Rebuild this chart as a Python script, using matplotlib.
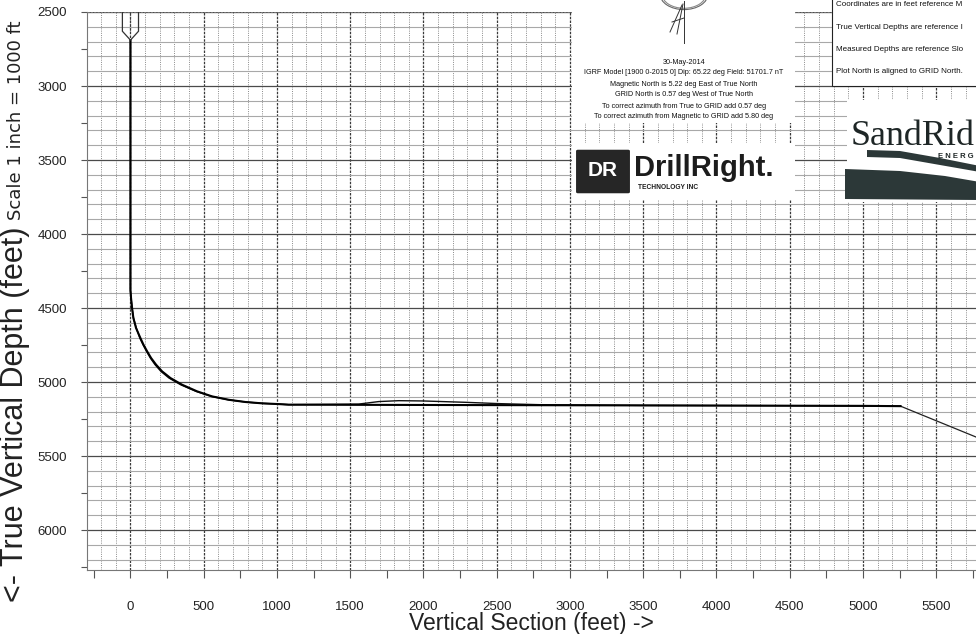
import numpy as np
import matplotlib
matplotlib.use("Agg")
import matplotlib.pyplot as plt
from matplotlib.patches import Rectangle, Polygon, FancyBboxPatch, Circle
from matplotlib.lines import Line2D

plt.rcParams['font.family'] = ['Liberation Sans', 'DejaVu Sans']

# ---------------- data ----------------
plan_vs = [0, 0, 0, 4, 11, 20, 38, 68, 89, 114, 141, 175, 216, 273, 352, 455, 557,
           671, 785, 898, 1012, 1080, 1500, 2000, 2500, 3000, 3500, 4000, 4500, 5000, 5256]
plan_tvd = [2690, 4297, 4380, 4432, 4500, 4568, 4635, 4703, 4748, 4793, 4838, 4883, 4928,
            4973, 5018, 5063, 5097, 5120, 5135, 5144, 5149, 5153, 5154, 5155, 5156, 5157,
            5158, 5159, 5160, 5161, 5163]

actual_vs = [0, 0, 4, 11, 21, 40, 64, 86, 110, 136, 168, 208, 263, 342, 447, 552,
             668, 785, 898, 1012, 1080, 1558, 1695, 1832, 2000, 2285, 2517, 2790,
             3500, 4500, 5256]
actual_tvd = [2690, 4380, 4432, 4500, 4568, 4635, 4703, 4748, 4793, 4838, 4883, 4928,
              4973, 5018, 5063, 5097, 5120, 5135, 5144, 5149, 5153, 5149, 5132, 5126,
              5128, 5137, 5146, 5153, 5158, 5160, 5163]

target_vs = [5256, 6000]
target_tvd = [5163, 5464]

casing_top = 2500
casing_shoulder = 2630
casing_shoe = 2690
casing_halfwidth = 55

xlim = (-300, 6000)
ylim = (6270, 2500)
x_major = 500
x_minor = 250
grid_step = 100

info_lines = [
    "30-May-2014",
    "IGRF Model [1900 0-2015 0] Dip: 65.22 deg Field: 51701.7 nT",
    "Magnetic North is 5.22 deg East of True North",
    "GRID North is 0.57 deg West of True North",
    "To correct azimuth from True to GRID add 0.57 deg",
    "To correct azimuth from Magnetic to GRID add 5.80 deg",
]
ref_lines = [
    "Coordinates are in feet reference M",
    "True Vertical Depths are reference I",
    "Measured Depths are reference Slo",
    "Plot North is aligned to GRID North.",
]

# ---------------- figure ----------------
W, H = 976, 634
fig = plt.figure(figsize=(W / 100, H / 100), dpi=100)

def fx(px):
    return px / W

def fy(py):
    return 1 - py / H

ax_left, ax_right, ax_top, ax_bottom = 86.5, 1009.5, 12, 570
ax = fig.add_axes([fx(ax_left), fy(ax_bottom), (ax_right - ax_left) / W, (ax_bottom - ax_top) / H])
ax.set_xlim(*xlim)
ax.set_ylim(*ylim)

# grid
for v in np.arange(xlim[0], xlim[1] + 1, grid_step):
    if v % 500 == 0:
        ax.axvline(v, color='#3a3a3a', lw=0.9, ls=(0, (2, 1)), zorder=1)
    else:
        ax.axvline(v, color='#8a8a8a', lw=0.7, ls=(0, (1, 1.3)), zorder=1)
for h in np.arange(ylim[1], ylim[0] + 1, grid_step):
    if h % 500 == 0:
        ax.axhline(h, color='#4a4a4a', lw=0.9, zorder=1)
    else:
        ax.axhline(h, color='#a8a8a8', lw=0.8, zorder=1)

# well paths
ax.plot(target_vs, target_tvd, color='#222222', lw=0.9, zorder=3)
ax.plot(actual_vs, actual_tvd, color='#111111', lw=1.0, zorder=4)
ax.plot(plan_vs, plan_tvd, color='#000000', lw=1.5, zorder=5)

# casing symbol
cas = Polygon([[-casing_halfwidth, casing_top], [-casing_halfwidth, casing_shoulder],
               [0, casing_shoe], [casing_halfwidth, casing_shoulder],
               [casing_halfwidth, casing_top]], closed=False, fill=False,
              edgecolor='#333333', lw=0.9, zorder=5)
ax.add_patch(cas)
ax.plot([0, 0], [casing_top, casing_shoulder], color='#444444', lw=0.8,
        ls=(0, (1, 1)), zorder=5)

# ticks
ax.xaxis.set_minor_locator(matplotlib.ticker.MultipleLocator(x_minor))
ax.yaxis.set_major_locator(matplotlib.ticker.MultipleLocator(x_major))
ax.yaxis.set_minor_locator(matplotlib.ticker.MultipleLocator(x_minor))
ax.set_xticks([t for t in np.arange(0, 5501, x_major)])
ax.set_xticklabels([str(int(t)) for t in np.arange(0, 5501, x_major)])
ax.tick_params(axis='x', which='both', direction='out', length=6, width=0.8,
               color='#555555', labelsize=9.5, pad=16, labelcolor='#222222')
ax.tick_params(axis='y', which='both', direction='out', length=4, width=0.8,
               color='#555555', labelsize=9.5, pad=10, labelcolor='#222222')
for s in ['top', 'right']:
    ax.spines[s].set_visible(False)
for s in ['left', 'bottom']:
    ax.spines[s].set_color('#777777')
    ax.spines[s].set_linewidth(0.8)
ax.axhline(ylim[1], color='#777777', lw=0.8, ls=(0, (2, 1)), zorder=2)

# axis labels
fig.text(fx(30), fy(602), "<- True Vertical Depth (feet)", rotation=90,
         ha='right', va='bottom', fontsize=22, color='#222222')
fig.text(fx(25), fy(220), "Scale 1 inch = 1000 ft", rotation=90,
         ha='right', va='bottom', fontsize=13, family=['DejaVu Sans'], color='#222222')
fig.text(fx(531), fy(630), "Vertical Section (feet) ->", ha='center', va='baseline',
         fontsize=16.5, color='#222222')

# ---------- overlays ----------
def frect(x0, y0, x1, y1, **kw):
    r = Rectangle((fx(x0), fy(y1)), (x1 - x0) / W, (y1 - y0) / H,
                  transform=fig.transFigure, **kw)
    fig.add_artist(r)
    return r

# info box
frect(572, -2, 795, 123, facecolor='white', edgecolor='none', zorder=10)
for i, line in enumerate(info_lines):
    fig.text(fx(684), fy(62 + i * 11), line, ha='center', va='center', fontsize=5.2,
             color='#111111', zorder=11)

# compass
for r_, c_ in [(24, '#666666'), (22, '#888888')]:
    circ = Circle((fx(684), fy(-6)), r_ / W, transform=fig.transFigure, fill=False,
                  edgecolor=c_, lw=0.8, zorder=11)
    fig.add_artist(circ)
for (x0, y0, x1, y1) in [(684, 1, 684, 43), (682, 5, 670, 32), (683, 4, 677, 34),
                         (672, 22, 684, 18)]:
    fig.add_artist(Line2D([fx(x0), fx(x1)], [fy(y0), fy(y1)], transform=fig.transFigure,
                          color='#333333', lw=0.7, zorder=12))

# DrillRight logo
frect(572, 143, 795, 200, facecolor='white', edgecolor='none', zorder=10)
icon = FancyBboxPatch((fx(578), fy(192)), 50 / W, 41 / H, boxstyle="round,pad=0.002",
                      transform=fig.transFigure, facecolor='#262626', edgecolor='none',
                      zorder=11)
fig.add_artist(icon)
fig.text(fx(603), fy(171), "DR", ha='center', va='center', fontsize=15,
         fontweight='bold', color='white', zorder=12)
fig.text(fx(634), fy(176), "DrillRight.", ha='left', va='baseline', fontsize=21,
         fontweight='bold', color='#1c1c1c', zorder=12)
fig.text(fx(638), fy(188), "TECHNOLOGY INC", ha='left', va='center', fontsize=4.8,
         fontweight='bold', color='#1c1c1c', zorder=12)

# reference box
frect(832, -2, 980, 86, facecolor='white', edgecolor='#222222', lw=0.8, zorder=10)
for i, line in enumerate(ref_lines):
    fig.text(fx(836), fy(5 + i * 22.3), line, ha='left', va='center', fontsize=5.8,
             color='#111111', zorder=11)

# SandRidge logo
frect(847, 100, 980, 202, facecolor='white', edgecolor='none', zorder=10)
fig.text(fx(975), fy(145), "SandRid", ha='right', va='baseline', fontsize=26,
         family=['Liberation Serif', 'DejaVu Serif'], color='#1e2626', zorder=12)
fig.text(fx(974), fy(156), "E N E R G", ha='right', va='center', fontsize=5.5,
         fontweight='bold', color='#1e2626', zorder=12)
swoosh = Polygon([[fx(867), fy(150)], [fx(900), fy(151)], [fx(940), fy(158)], [fx(980), fy(166)],
                  [fx(980), fy(172)], [fx(940), fy(165)], [fx(900), fy(158)], [fx(867), fy(157)]],
                 closed=True, transform=fig.transFigure, facecolor='#2c3838',
                 edgecolor='none', zorder=11)
fig.add_artist(swoosh)
body = Polygon([[fx(845), fy(169)], [fx(900), fy(171)], [fx(945), fy(176)], [fx(980), fy(182)],
                [fx(980), fy(200)], [fx(845), fy(199)]], closed=True,
               transform=fig.transFigure, facecolor='#2c3838', edgecolor='none', zorder=11)
fig.add_artist(body)

fig.savefig("out.png", dpi=100, facecolor='white')
